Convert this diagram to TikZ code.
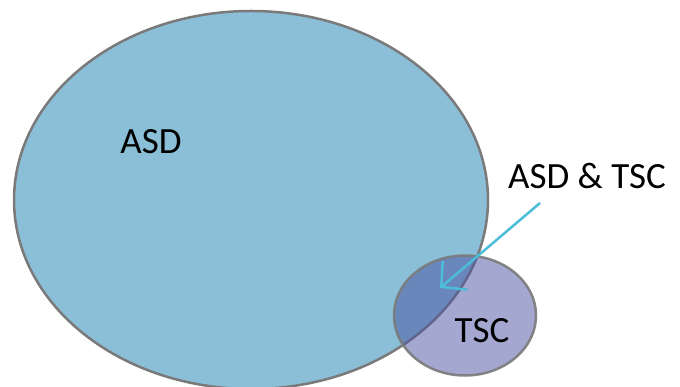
\documentclass[tikz,border=0pt]{standalone}
\usepackage{fontspec}
\setmainfont{Carlito}
\usetikzlibrary{arrows.meta}
\definecolor{asdfill}{HTML}{8BBFD7}
\definecolor{tscfill}{HTML}{4951A1}
\definecolor{edge}{HTML}{7A7A7A}
\definecolor{arrowc}{HTML}{4BBCD9}
\tikzset{
  setshape/.style={draw=edge, line width=2.5pt},
  lbl/.style={font=\fontsize{37}{44}\selectfont, text=black, inner sep=0pt},
}
\begin{document}
\begin{tikzpicture}[x=1pt,y=-1pt]
\useasboundingbox (0,0) rectangle (680,387);
\begin{scope}
\clip (0,0) rectangle (680,387);
\fill[asdfill] (251,200) ellipse [x radius=237, y radius=189];
\draw[setshape] (251,200) ellipse [x radius=237, y radius=189];
\fill[tscfill, fill opacity=0.5] (465,315.5) ellipse [x radius=71, y radius=60];
\draw[setshape, draw opacity=0.9] (465,315.5) ellipse [x radius=71, y radius=60];
\end{scope}
\node[lbl] (asd) at (151,142) {ASD};
\node[lbl] (tsc) at (482,331) {TSC};
\node[lbl] (both) at (587,176) {ASD \& TSC};
\coordinate (start) at (540,203);
\coordinate (tip) at (440,288);
\draw[arrowc, line width=2.5pt, -{Straight Barb[length=18pt, width=38pt, line width=2.5pt]}] (start) -- (tip);
\end{tikzpicture}
\end{document}
